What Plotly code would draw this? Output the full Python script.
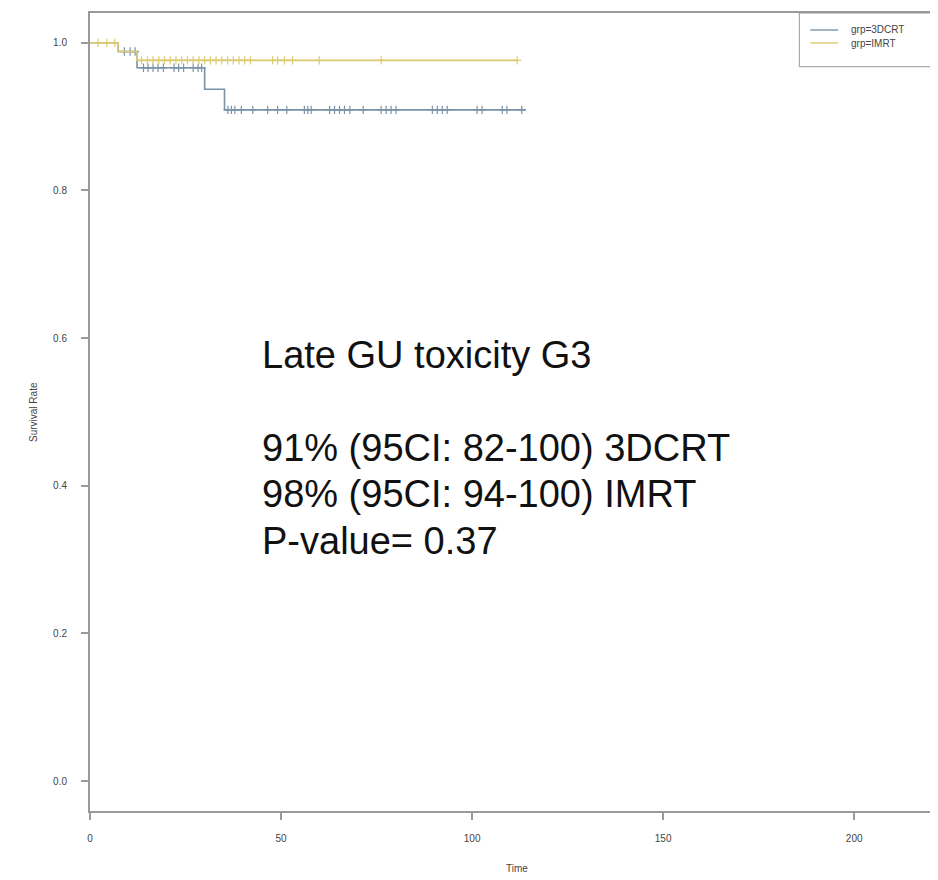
import plotly.graph_objects as go

# Kaplan-Meier step data (time, survival)
t_3dcrt = [0, 7.3, 12.3, 30.0, 35.2, 114.0]
s_3dcrt = [1.0, 0.988, 0.966, 0.937, 0.909, 0.909]
t_imrt = [0, 7.3, 12.3, 111.8]
s_imrt = [1.0, 0.988, 0.976, 0.976]

# censoring times
cens_3dcrt = [9.0, 10.5, 11.8, 14.0, 15.2, 16.5, 17.8, 19.2, 22.0, 23.2, 24.5, 27.0, 28.3, 29.2,
              36.1, 37.0, 37.9, 39.6, 42.6, 46.5, 49.1, 51.5, 56.1, 57.0, 57.9, 62.7, 64.0,
              65.3, 66.6, 68.0, 71.5, 76.2, 77.5, 78.8, 80.1, 89.6, 90.9, 92.2, 93.5,
              101.3, 102.6, 107.9, 109.1, 113.0]
cens_imrt = [2.1, 4.4, 6.5, 13.5, 15.0, 16.5, 18.0, 19.5, 21.0, 22.5, 24.0, 25.5, 27.0, 28.5,
             30.0, 31.5, 33.0, 34.5, 36.0, 37.5, 39.0, 40.5, 42.0, 47.8, 49.1, 50.9, 53.0,
             60.0, 76.2, 111.8]

group_names = ["grp=3DCRT", "grp=IMRT"]
colors = ["#7b93a8", "#dccb6e"]

x_ticks = [0, 50, 100, 150, 200]
y_ticks = [0.0, 0.2, 0.4, 0.6, 0.8, 1.0]
y_ticklabels = ["0.0", "0.2", "0.4", "0.6", "0.8", "1.0"]

annot_lines = ["Late GU toxicity G3", "91% (95CI: 82-100) 3DCRT",
               "98% (95CI: 94-100) IMRT", "P-value= 0.37"]
annot_y = [0.6081, 0.4826, 0.4199, 0.3562]

FONT = "Liberation Sans, Arial"


def surv_at(ts, ss, t):
    v = ss[0]
    for ti, si in zip(ts, ss):
        if ti <= t:
            v = si
    return v


fig = go.Figure()
for name, ts, ss, cens, col in [(group_names[0], t_3dcrt, s_3dcrt, cens_3dcrt, colors[0]),
                                (group_names[1], t_imrt, s_imrt, cens_imrt, colors[1])]:
    fig.add_trace(go.Scatter(x=ts, y=ss, mode="lines", line=dict(shape="hv", color=col, width=1.6),
                             name=name, showlegend=False))
    fig.add_trace(go.Scatter(x=cens, y=[surv_at(ts, ss, c) for c in cens], mode="markers",
                             marker=dict(symbol="cross-thin", size=6, line=dict(color=col, width=1.2)),
                             name=name, showlegend=False, hoverinfo="skip"))

# central text block
for txt, yy in zip(annot_lines, annot_y):
    fig.add_annotation(x=44.6, y=yy, xref="x", yref="y", xanchor="left", yanchor="top",
                       align="left", showarrow=False, text=txt,
                       font=dict(family=FONT, size=38, color="#111111"))

# axis titles
fig.add_annotation(x=0, y=0.5, xref="paper", yref="paper", xanchor="center", yanchor="middle",
                   xshift=-57, textangle=-90, text="Survival Rate", showarrow=False,
                   font=dict(family=FONT, size=10, color="#444444"))
fig.add_annotation(x=0.5, y=0, xref="paper", yref="paper", xanchor="center", yanchor="middle",
                   yshift=-57, text="Time", showarrow=False,
                   font=dict(family=FONT, size=10, color="#444444"))

# legend box (top-right, as in the original R plot)
fig.add_shape(type="rect", xref="paper", yref="paper", x0=0.8306, x1=1.03, y0=0.9327, y1=1.0,
              line=dict(color="#999999", width=1), fillcolor="white", layer="above")
leg_y = [0.9787, 0.9624]
for name, col, ly in zip(group_names, colors, leg_y):
    fig.add_shape(type="line", xref="paper", yref="paper", x0=0.8435, x1=0.8762, y0=ly, y1=ly,
                  line=dict(color=col, width=1.4), layer="above")
    fig.add_annotation(x=0.8902, y=ly, xref="paper", yref="paper", xanchor="left",
                       yanchor="middle", text=name, showarrow=False, borderpad=0,
                       font=dict(family=FONT, size=10, color="#444444"))

axis_common = dict(showline=True, linecolor="#9a9a9a", linewidth=2, mirror=True,
                   ticks="outside", ticklen=7, tickcolor="#9a9a9a", tickwidth=1.5,
                   showgrid=False, zeroline=False,
                   tickfont=dict(family=FONT, size=10, color="#444444"))

fig.update_layout(
    width=938, height=880,
    margin=dict(l=82, r=0, t=5, b=77),
    plot_bgcolor="white", paper_bgcolor="white",
    showlegend=False,
    xaxis=dict(range=[0, 223.5], tickvals=x_ticks, ticklabelstandoff=10, **axis_common),
    yaxis=dict(range=[-0.0406, 1.0402], tickvals=y_ticks, ticktext=y_ticklabels,
               ticklabelstandoff=12, **axis_common),
)

fig.write_html("out.html")
